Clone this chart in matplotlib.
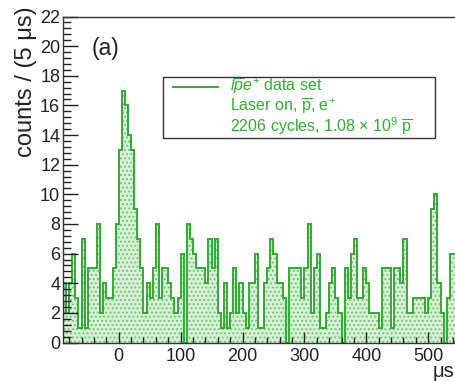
import numpy as np
import matplotlib
matplotlib.use("Agg")
import matplotlib.pyplot as plt
from matplotlib.patches import Rectangle
from matplotlib.lines import Line2D
from matplotlib.ticker import MultipleLocator

plt.rcParams['font.family'] = ['Liberation Sans', 'DejaVu Sans']
plt.rcParams['mathtext.fontset'] = 'custom'
plt.rcParams['mathtext.rm'] = 'Liberation Sans'
plt.rcParams['mathtext.it'] = 'Liberation Sans:italic'
plt.rcParams['hatch.linewidth'] = 0.9

# histogram: 5 us bins starting at -90 us
bin_width = 5
first_edge = -90
counts = [
    4, 2, 4, 6, 3, 1, 7, 1, 5, 5, 5, 8, 2, 4, 3, 3, 5, 8,        # -90 .. -5
    13, 17, 16, 14, 13, 9, 7, 5, 2, 4, 3, 5,                     # 0 .. 55
    8, 3, 5, 5, 4, 3, 2, 3, 6, 0,                                # 60 .. 105
    8, 7, 6, 5, 5, 5, 4, 7, 5, 7, 2, 1, 4, 1, 2, 5, 2, 4,        # 110 .. 195
    2, 1, 4, 4, 6, 1, 1, 4, 5, 7, 6, 4, 4, 3, 0, 5,              # 200 .. 275
    5, 5, 5, 3, 5, 8, 2, 5, 6, 1, 1, 2, 4, 5, 3, 2,              # 280 .. 355
    0, 5, 3, 6, 7, 3, 3, 5, 4, 2, 2, 2, 1, 5, 5, 5, 1, 5, 5, 4,  # 360 .. 455
    7, 2, 2, 3, 3, 3, 3, 2, 3, 9, 10, 4, 2, 0, 3, 6, 6,          # 460 .. 540
]
edges = first_edge + bin_width * np.arange(len(counts) + 1)

x_ticks = [0, 100, 200, 300, 400, 500]
y_ticks = list(range(0, 23, 2))

line_green = '#35a835'
text_col = '#222222'

W, H = 455, 381
fig = plt.figure(figsize=(W / 100, H / 100), dpi=100)

# axes runs past the right edge of the picture (cropped original)
px_per_unit = 0.619
x0, x1 = -90, 610
left_px, top_px, bottom_px = 63, 16.5, 342.5
ax = fig.add_axes([left_px / W, (H - bottom_px) / H,
                   (x1 - x0) * px_per_unit / W, (bottom_px - top_px) / H])

ax.stairs(counts, edges, fill=True, facecolor='#d8f0d8', edgecolor='#6fc46f',
          hatch='....', linewidth=0)
ax.stairs(counts, edges, color=line_green, linewidth=1.4)

ax.set_xlim(x0, x1)
ax.set_ylim(0, 22)
ax.set_xticks(x_ticks)
ax.set_yticks(y_ticks)
ax.xaxis.set_minor_locator(MultipleLocator(20))
ax.yaxis.set_minor_locator(MultipleLocator(0.4))
ax.tick_params(which='both', direction='in', labelsize=13, colors='#222222')
ax.tick_params(axis='y', which='major', length=11, width=1, pad=2)
ax.tick_params(axis='y', which='minor', length=5.5, width=1)
ax.tick_params(axis='x', which='major', length=8, width=1, pad=4)
ax.tick_params(axis='x', which='minor', length=4, width=1)
for s in ax.spines.values():
    s.set_color('#333333')
    s.set_linewidth(1.0)

fig.text(26 / W, 1 - 6 / H, 'counts / (5 \u03bcs)', rotation=90, ha='center',
         va='top', fontsize=17, color=text_col)
fig.text(433 / W, 1 - 381 / H, '\u03bcs', ha='left', va='bottom',
         fontsize=14.5, color=text_col)
fig.text(92 / W, 1 - 49 / H, '(a)', ha='left', va='center', fontsize=16.5,
         color=text_col)

# legend box
bx0, by0, bx1, by1 = 163, 77, 435, 138
fig.patches.append(Rectangle((bx0 / W, 1 - by1 / H), (bx1 - bx0) / W,
                             (by1 - by0) / H, transform=fig.transFigure,
                             facecolor='white', edgecolor='#333333',
                             linewidth=1.0, zorder=5))
fig.lines.append(Line2D([173 / W, 218 / W], [1 - 87 / H, 1 - 87 / H],
                        transform=fig.transFigure, color=line_green,
                        linewidth=1.4, zorder=6))
legend_lines = [
    r'$l\overline{p}e^{+}$ data set',
    r'Laser on, $\overline{\mathrm{p}}$, e$^{+}$',
    r'2206 cycles, 1.08 $\times$ 10$^{9}$ $\overline{\mathrm{p}}$',
]
for i, txt in enumerate(legend_lines):
    fig.text(230 / W, 1 - (87 + 19.5 * i) / H, txt, ha='left', va='center',
             fontsize=11.5, color=line_green, zorder=6)

fig.savefig('out.png', dpi=100)
